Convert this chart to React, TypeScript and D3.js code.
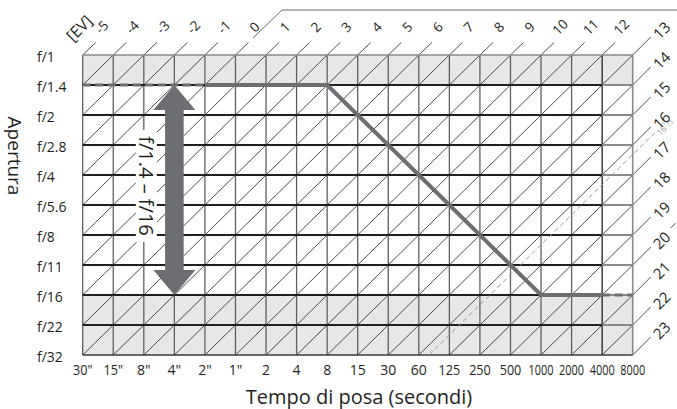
import React from 'react';
import * as d3 from 'd3';

const shutterLabels = ['30"', '15"', '8"', '4"', '2"', '1"', '2', '4', '8', '15', '30', '60', '125', '250', '500', '1000', '2000', '4000', '8000'];
const apertureLabels = ['f/1', 'f/1.4', 'f/2', 'f/2.8', 'f/4', 'f/5.6', 'f/8', 'f/11', 'f/16', 'f/22', 'f/32'];
const evTopLabels = [-5, -4, -3, -2, -1, 0, 1, 2, 3, 4, 5, 6, 7, 8, 9, 10, 11, 12];
const evRightLabels = [13, 14, 15, 16, 17, 18, 19, 20, 21, 22, 23];
const programShutter = ['2"', '8', '1000', '4000'];
const programAperture = ['f/1.4', 'f/1.4', 'f/16', 'f/16'];
const programStartShutter = ['30"', '2"'];
const programStartAperture = ['f/1.4', 'f/1.4'];
const programEndShutter = ['4000', '8000'];
const programEndAperture = ['f/16', 'f/16'];
const shadedFrom = ['f/1', 'f/16'];
const shadedTo = ['f/1.4', 'f/32'];
const arrowShutter = '4"';
const arrowAperture = ['f/1.4', 'f/16'];
const rangeLabel = 'f/1.4 – f/16';
const dashedEV = 16 + 1 / 3;
const evMin = -5;

const W = 677;
const H = 409;
const FONT = '"Open Sans", sans-serif';

export default function App() {
  const nC = shutterLabels.length - 1;
  const nR = apertureLabels.length - 1;
  const xs = d3.scaleLinear().domain([0, nC]).range([82.7, 632.7]);
  const ys = d3.scaleLinear().domain([0, nR]).range([55, 355]);
  const xi = (l: string) => xs(shutterLabels.indexOf(l));
  const yi = (l: string) => ys(apertureLabels.indexOf(l));
  const x0 = xs(0), x1 = xs(nC), y0 = ys(0), y1 = ys(nR);

  const allEV = [...evTopLabels, ...evRightLabels];

  const diag = (k: number) => {
    const rLow = Math.min(nR, k);
    const cLow = k - rLow;
    const cHigh = Math.min(nC, k);
    const rHigh = k - cHigh;
    return { xa: xs(cLow), ya: ys(rLow), xb: xs(cHigh), yb: ys(rHigh) };
  };

  const line = d3.line<[number, number]>();
  const progSolid = line(programShutter.map((s, i) => [xi(s), yi(programAperture[i])] as [number, number]));
  const progStart = line(programStartShutter.map((s, i) => [xi(s), yi(programStartAperture[i])] as [number, number]));
  const progEnd = line(programEndShutter.map((s, i) => [xi(s), yi(programEndAperture[i])] as [number, number]));

  const ax = xi(arrowShutter);
  const ayTop = yi(arrowAperture[0]);
  const ayBot = yi(arrowAperture[1]);
  const sw = 9.3, hw = 21, hh = 25;
  const arrowPath = [
    [ax, ayTop], [ax + hw, ayTop + hh], [ax + sw, ayTop + hh], [ax + sw, ayBot - hh], [ax + hw, ayBot - hh],
    [ax, ayBot], [ax - hw, ayBot - hh], [ax - sw, ayBot - hh], [ax - sw, ayTop + hh], [ax - hw, ayTop + hh],
  ];
  const arrowD = d3.line()(arrowPath as [number, number][]) + 'Z';

  const dk = dashedEV - evMin;
  const dd = diag(dk);

  const textCy = (ayTop + ayBot) / 2 - 4;
  const textX = xs(2) + 3;

  return (
    <svg width={W} height={H} style={{ position: 'absolute', left: 0, top: 0, background: '#fff' }} fontFamily={FONT}>
      {shadedFrom.map((f, i) => (
        <rect key={'sh' + i} x={x0} y={yi(f)} width={x1 - x0} height={yi(shadedTo[i]) - yi(f)} fill="#e6e7e8" />
      ))}
      {allEV.map((ev) => {
        const k = ev - evMin;
        const d = diag(k);
        return <line key={'dg' + ev} x1={d.xa} y1={d.ya} x2={d.xb} y2={d.yb} stroke="#231f20" strokeWidth={0.8} />;
      })}
      {allEV.map((ev) => {
        const k = ev - evMin;
        if (k <= nC - 1) {
          const x = xs(k);
          return <line key={'tk' + ev} x1={x} y1={y0} x2={x + 13} y2={y0 - 12.5} stroke="#231f20" strokeWidth={0.8} />;
        }
        const y = ys(k - nC);
        return <line key={'tk' + ev} x1={x1} y1={y} x2={x1 + 18} y2={y - 18} stroke="#231f20" strokeWidth={0.8} />;
      })}
      {shutterLabels.map((s, i) => (
        <line key={'v' + i} x1={xs(i)} y1={y0} x2={xs(i)} y2={y1}
          stroke={i === nC ? '#8a8a8c' : i === nC - 1 ? '#231f20' : '#5e5f61'} strokeWidth={i === nC ? 1.6 : 1.3} />
      ))}
      {apertureLabels.map((a, r) => {
        const y = ys(r);
        const mainColor = r === 0 ? '#8a8a8c' : r === nR ? '#3a3a3c' : '#231f20';
        return (
          <g key={'h' + r}>
            <line x1={x0} y1={y} x2={xs(nC - 1)} y2={y} stroke={mainColor} strokeWidth={r === 0 || r === nR ? 1.5 : 2} />
            <line x1={xs(nC - 1)} y1={y} x2={x1} y2={y} stroke={r === nR ? '#3a3a3c' : '#8a8a8c'} strokeWidth={r === 0 || r === nR ? 1.5 : 2} />
          </g>
        );
      })}
      <line x1={dd.xa} y1={dd.ya} x2={dd.xb + 22} y2={dd.yb - 22} stroke="#9a9a9c" strokeWidth={1} strokeDasharray="5,3" />
      <text x={0} y={0} fontSize={8.5} fill="#9a9a9c" textAnchor="middle" dominantBaseline="central"
        transform={`translate(${dd.xb + 32},${dd.yb - 28}) rotate(-45)`}>
        16<tspan fontSize={6} dy={-3}>1</tspan><tspan fontSize={7} dy={3}>/</tspan><tspan fontSize={6} dy={1}>3</tspan>
      </text>
      <path d={progStart || ''} fill="none" stroke="#6d6e71" strokeWidth={3.2} strokeDasharray="8,4.5" />
      <path d={progSolid || ''} fill="none" stroke="#6d6e71" strokeWidth={4} strokeLinejoin="miter" />
      <path d={progEnd || ''} fill="none" stroke="#6d6e71" strokeWidth={3.2} strokeDasharray="8,4.5" />
      <path d={arrowD} fill="#6d6e71" />
      <rect x={textX - 11} y={textCy - 56} width={21} height={112} fill="#fff" />
      <text x={0} y={0} fontSize={20} fill="#231f20" textAnchor="middle" dominantBaseline="central"
        transform={`translate(${textX},${textCy}) rotate(90)`}>{rangeLabel}</text>
      <polyline points={`253,38 282,10 ${W},10`} fill="none" stroke="#6d6e71" strokeWidth={1} />
      <text x={0} y={0} fontSize={16} fill="#231f20" textAnchor="middle" dominantBaseline="central"
        transform={`translate(79,28) rotate(-45)`}>[EV]</text>
      {allEV.map((ev) => {
        const k = ev - evMin;
        let tx, ty, fs;
        if (k <= nC - 1) {
          tx = xs(k) + 19; ty = y0 - 28; fs = 13.5;
        } else {
          tx = x1 + 28.5; ty = ys(k - nC) - 25; fs = 15;
        }
        return (
          <text key={'ev' + ev} x={0} y={0} fontSize={fs} fill="#231f20" textAnchor="middle" dominantBaseline="central"
            transform={`translate(${tx},${ty}) rotate(-45)`}>{ev}</text>
        );
      })}
      {(() => {
        const y = ys(20 - evMin - nC);
        return <line x1={x1 + 38} y1={y - 37} x2={x1 + 43} y2={y - 42} stroke="#231f20" strokeWidth={0.8} />;
      })()}
      {apertureLabels.map((a, r) => (
        <text key={'al' + r} x={37} y={ys(r) + 1} fontSize={14} fill="#231f20" dominantBaseline="central">{a}</text>
      ))}
      {shutterLabels.map((s, i) => (
        <text key={'sl' + i} x={0} y={0} fontSize={14} fill="#231f20" textAnchor="middle"
          transform={`translate(${xs(i)},375) scale(${s.length >= 4 ? 0.78 : s.length === 3 ? 0.9 : 1},1)`}>{s}</text>
      ))}
      <text x={0} y={0} fontSize={19} fill="#231f20" textAnchor="middle" dominantBaseline="central"
        transform="translate(15,156) rotate(90)">Apertura</text>
      <text x={359} y={404} fontSize={20} fill="#231f20" textAnchor="middle">Tempo di posa (secondi)</text>
    </svg>
  );
}
